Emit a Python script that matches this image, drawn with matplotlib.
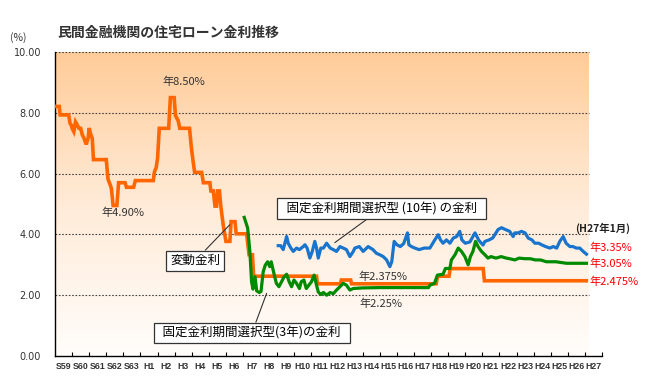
import numpy as np
import matplotlib
matplotlib.use("Agg")
import matplotlib.pyplot as plt
from matplotlib.colors import LinearSegmentedColormap

plt.rcParams['font.family'] = ['Noto Sans CJK JP', 'DejaVu Sans']

# ---- data ----
# 変動金利 (variable rate)
var_year = [1984.0, 1984.25, 1984.3, 1984.8, 1984.88, 1984.95, 1985.0, 1985.1, 1985.2, 1985.3,
            1985.4, 1985.5, 1985.6, 1985.7, 1985.8, 1985.85, 1985.95, 1986.0, 1986.1, 1986.18,
            1986.25, 1987.0, 1987.1, 1987.25, 1987.3, 1987.4, 1987.62, 1987.72, 1988.1, 1988.18,
            1988.6, 1988.7, 1989.75, 1989.82, 1989.92, 1990.0, 1990.1, 1990.65, 1990.75, 1990.97,
            1991.05, 1991.2, 1991.3, 1991.87, 1991.97, 1992.07, 1992.17, 1992.58, 1992.68, 1993.06,
            1993.12, 1993.26, 1993.36, 1993.45, 1993.51, 1993.62, 1993.7, 1993.85, 1994.0, 1994.23,
            1994.3, 1994.53, 1994.6, 1995.21, 1995.35, 1995.55, 1995.62, 1999.3, 1999.35, 2000.7,
            2000.75, 2001.3, 2001.35, 2006.3, 2006.38, 2007.05, 2007.12, 2009.05, 2009.12, 2015.08]
var_rate = [8.21, 8.21, 7.93, 7.93, 7.65, 7.6, 7.49, 7.38, 7.7, 7.6,
            7.49, 7.49, 7.27, 7.16, 7.0, 7.0, 7.2, 7.5, 7.27, 7.16,
            6.46, 6.46, 5.82, 5.6, 5.5, 4.95, 4.95, 5.7, 5.7, 5.55,
            5.55, 5.77, 5.77, 6.06, 6.2, 6.5, 7.49, 7.49, 8.5, 8.5,
            7.9, 7.75, 7.49, 7.49, 6.9, 6.44, 6.04, 6.04, 5.7, 5.7,
            5.43, 5.43, 4.93, 4.93, 5.43, 5.43, 4.93, 4.27, 3.77, 3.77,
            4.42, 4.42, 4.02, 4.02, 3.33, 3.33, 2.625, 2.625, 2.375, 2.375,
            2.5, 2.5, 2.375, 2.375, 2.625, 2.625, 2.875, 2.875, 2.475, 2.475]

# 固定金利期間選択型(3年)
fix3_year = [1995.07, 1995.27, 1995.4, 1995.5, 1995.58, 1995.7, 1995.8, 1995.95, 1996.05, 1996.18,
             1996.3, 1996.44, 1996.56, 1996.65, 1996.83, 1996.95, 1997.1, 1997.25, 1997.4, 1997.55,
             1997.7, 1997.84, 1997.98, 1998.13, 1998.3, 1998.4, 1998.56, 1998.7, 1998.85, 1999.0,
             1999.16, 1999.3, 1999.4, 1999.55, 1999.7, 1999.89, 2000.1, 2000.28, 2000.47, 2000.67,
             2000.86, 2001.05, 2001.25, 2001.45, 2002.0, 2003.0, 2004.0, 2005.0, 2005.85, 2005.93,
             2006.2, 2006.37, 2006.7, 2006.84, 2007.1, 2007.19, 2007.4, 2007.59, 2007.78, 2007.98,
             2008.17, 2008.3, 2008.45, 2008.6, 2008.75, 2008.95, 2009.15, 2009.33, 2009.5, 2009.8,
             2010.1, 2010.4, 2010.6, 2010.9, 2011.15, 2011.5, 2011.8, 2012.1, 2012.4, 2012.75,
             2013.3, 2013.92, 2015.09]
fix3_rate = [4.56, 4.21, 3.44, 2.44, 2.2, 2.61, 2.14, 2.09, 2.12, 2.77,
             2.99, 3.10, 2.94, 3.10, 2.66, 2.39, 2.28, 2.44, 2.6, 2.69,
             2.44, 2.28, 2.5, 2.39, 2.22, 2.44, 2.5, 2.22, 2.33, 2.44,
             2.66, 2.33, 2.11, 2.02, 2.09, 2.0, 2.09, 2.05, 2.17, 2.28,
             2.39, 2.33, 2.17, 2.22, 2.24, 2.25, 2.25, 2.25, 2.25, 2.33,
             2.39, 2.66, 2.69, 2.88, 2.88, 3.16, 3.33, 3.55, 3.44, 3.27,
             3.0, 3.27, 3.44, 3.77, 3.6, 3.44, 3.33, 3.22, 3.27, 3.22,
             3.27, 3.22, 3.2, 3.16, 3.22, 3.2, 3.2, 3.16, 3.16, 3.10,
             3.10, 3.05, 3.05]

# 固定金利期間選択型(10年)
fix10_year = [1997.06, 1997.2, 1997.35, 1997.55, 1997.65, 1997.8, 1997.94, 1998.13, 1998.3, 1998.52,
              1998.62, 1998.75, 1998.91, 1999.05, 1999.2, 1999.3, 1999.4, 1999.55, 1999.7, 1999.89,
              2000.1, 2000.28, 2000.47, 2000.67, 2000.86, 2001.05, 2001.25, 2001.45, 2001.54, 2001.8,
              2002.03, 2002.32, 2002.6, 2002.8, 2003.0, 2003.2, 2003.4, 2003.59, 2003.7, 2003.84,
              2004.0, 2004.2, 2004.4, 2004.62, 2004.7, 2004.85, 2005.05, 2005.3, 2005.6, 2005.93,
              2006.22, 2006.42, 2006.55, 2006.7, 2006.9, 2007.1, 2007.3, 2007.5, 2007.68, 2007.8,
              2008.0, 2008.27, 2008.57, 2008.8, 2009.04, 2009.15, 2009.4, 2009.6, 2009.73, 2009.92,
              2010.12, 2010.35, 2010.6, 2010.8, 2010.9, 2011.1, 2011.29, 2011.5, 2011.68, 2011.9,
              2012.07, 2012.3, 2012.46, 2012.7, 2012.95, 2013.15, 2013.35, 2013.53, 2013.73, 2013.9,
              2014.12, 2014.3, 2014.5, 2014.7, 2014.9, 2015.09]
fix10_rate = [3.63, 3.63, 3.5, 3.93, 3.7, 3.55, 3.44, 3.55, 3.5, 3.6,
              3.66, 3.55, 3.22, 3.44, 3.77, 3.55, 3.22, 3.55, 3.55, 3.71,
              3.55, 3.5, 3.44, 3.6, 3.55, 3.5, 3.27, 3.44, 3.55, 3.6,
              3.44, 3.60, 3.5, 3.38, 3.33, 3.27, 3.16, 2.94, 3.1, 3.77,
              3.66, 3.6, 3.7, 4.05, 3.66, 3.6, 3.55, 3.5, 3.55, 3.55,
              3.82, 3.99, 3.82, 3.71, 3.82, 3.71, 3.88, 3.93, 4.10, 3.82,
              3.71, 3.75, 4.05, 3.8, 3.65, 3.77, 3.82, 3.88, 3.99, 4.16,
              4.22, 4.16, 4.10, 3.93, 4.05, 4.05, 4.10, 4.05, 3.88, 3.82,
              3.71, 3.71, 3.66, 3.6, 3.55, 3.6, 3.55, 3.77, 3.93, 3.71,
              3.60, 3.6, 3.55, 3.55, 3.44, 3.35]

year_labels = ['S59', 'S60', 'S61', 'S62', 'S63'] + ['H%d' % i for i in range(1, 28)]
first_year = 1984
y_ticks = [0, 2, 4, 6, 8, 10]

# ---- figure ----
fig = plt.figure(figsize=(6.5, 3.79), dpi=100)
ax = fig.add_axes([55/650, 23/379, 547/650, 304/379])
xmax = first_year + len(year_labels)
ax.set_xlim(first_year, xmax)
ax.set_ylim(0, 10)

# gradient background
bg_right = 2015.23
cmap = LinearSegmentedColormap.from_list("bg", ["#FFFDFB", "#FFEBD8", "#FFCC99"])
grad = np.linspace(0, 1, 256).reshape(-1, 1)
ax.imshow(grad, cmap=cmap, origin="lower", aspect="auto",
          extent=[first_year, bg_right, 0, 10], zorder=0)

for v in y_ticks[1:]:
    ax.hlines(v, first_year, bg_right, colors="#444444", linestyles=(0, (1.5, 1.5)), lw=0.8, zorder=1)

ax.plot(var_year, var_rate, color="#FF6600", lw=2.6, zorder=3, solid_joinstyle="miter")
ax.plot(fix3_year, fix3_rate, color="#008A00", lw=2.3, zorder=4)
ax.plot(fix10_year, fix10_rate, color="#1874CD", lw=2.3, zorder=4)

# axes style
for s in ["top", "right"]:
    ax.spines[s].set_visible(False)
ax.spines["left"].set_linewidth(1.0)
ax.spines["bottom"].set_linewidth(1.0)
ax.set_yticks(y_ticks)
ax.set_yticklabels(["%.2f" % v for v in y_ticks], fontsize=7, color="#333333", family="DejaVu Sans")
ax.tick_params(axis="y", length=0, pad=10)
ax.set_xticks(np.arange(first_year + 1, xmax + 1))
ax.set_xticklabels([])
ax.tick_params(axis="x", which="major", direction="in", length=3, width=0.8)
ax.set_xticks(np.arange(len(year_labels)) + first_year + 0.5, minor=True)
ax.set_xticklabels(year_labels, minor=True, fontsize=6.3, fontweight="bold",
                   family="Liberation Sans", color="#333333")
ax.tick_params(axis="x", which="minor", length=0, pad=4)

# titles
fig.text(57/650, 1 - 33/379, "民間金融機関の住宅ローン金利推移", fontsize=10, fontweight="bold",
         color="#333333", va="center", ha="left")
fig.text(18/650, 1 - 38/379, "(%)", fontsize=7.5, color="#333333", va="center", ha="center")

# value notes
ax.text(1991.54, 9.03, "年8.50%", fontsize=8, ha="center", va="center", color="#333333")
ax.text(1988.0, 4.72, "年4.90%", fontsize=8, ha="center", va="center", color="#333333")
ax.text(2003.2, 2.6, "年2.375%", fontsize=8, ha="center", va="center", color="#333333")
ax.text(2003.05, 1.73, "年2.25%", fontsize=8, ha="center", va="center", color="#333333")

box = dict(boxstyle="square,pad=0.3", fc="white", ec="#333333", lw=0.9)
arrow = dict(arrowstyle="-", color="#333333", lw=0.8, shrinkA=0, shrinkB=0)
ax.annotate("変動金利", xy=(1994.23, 4.32), xytext=(1992.19, 3.13), fontsize=9,
            ha="center", va="center", bbox=box, arrowprops=arrow, zorder=6)
ax.annotate("  固定金利期間選択型 (10年) の金利  ", xy=(2000.37, 3.73), xytext=(2003.1, 4.85),
            fontsize=9, ha="center", va="center", bbox=box, arrowprops=arrow, zorder=6)
ax.annotate("  固定金利期間選択型(3年)の金利  ", xy=(1996.38, 2.06), xytext=(1995.52, 0.76),
            fontsize=9, ha="center", va="center", bbox=box, arrowprops=arrow, zorder=6)

# right side values
ax.text(2014.4, 4.2, "(H27年1月)", fontsize=7.5, fontweight="bold", ha="left", va="center",
        color="#222222", clip_on=False)
ax.text(2015.25, 3.57, "年3.35%", fontsize=8, ha="left", va="center", color="#FF0000", clip_on=False)
ax.text(2015.25, 3.04, "年3.05%", fontsize=8, ha="left", va="center", color="#FF0000", clip_on=False)
ax.text(2015.25, 2.45, "年2.475%", fontsize=8, ha="left", va="center", color="#FF0000", clip_on=False)

fig.savefig("out.png", dpi=100)
